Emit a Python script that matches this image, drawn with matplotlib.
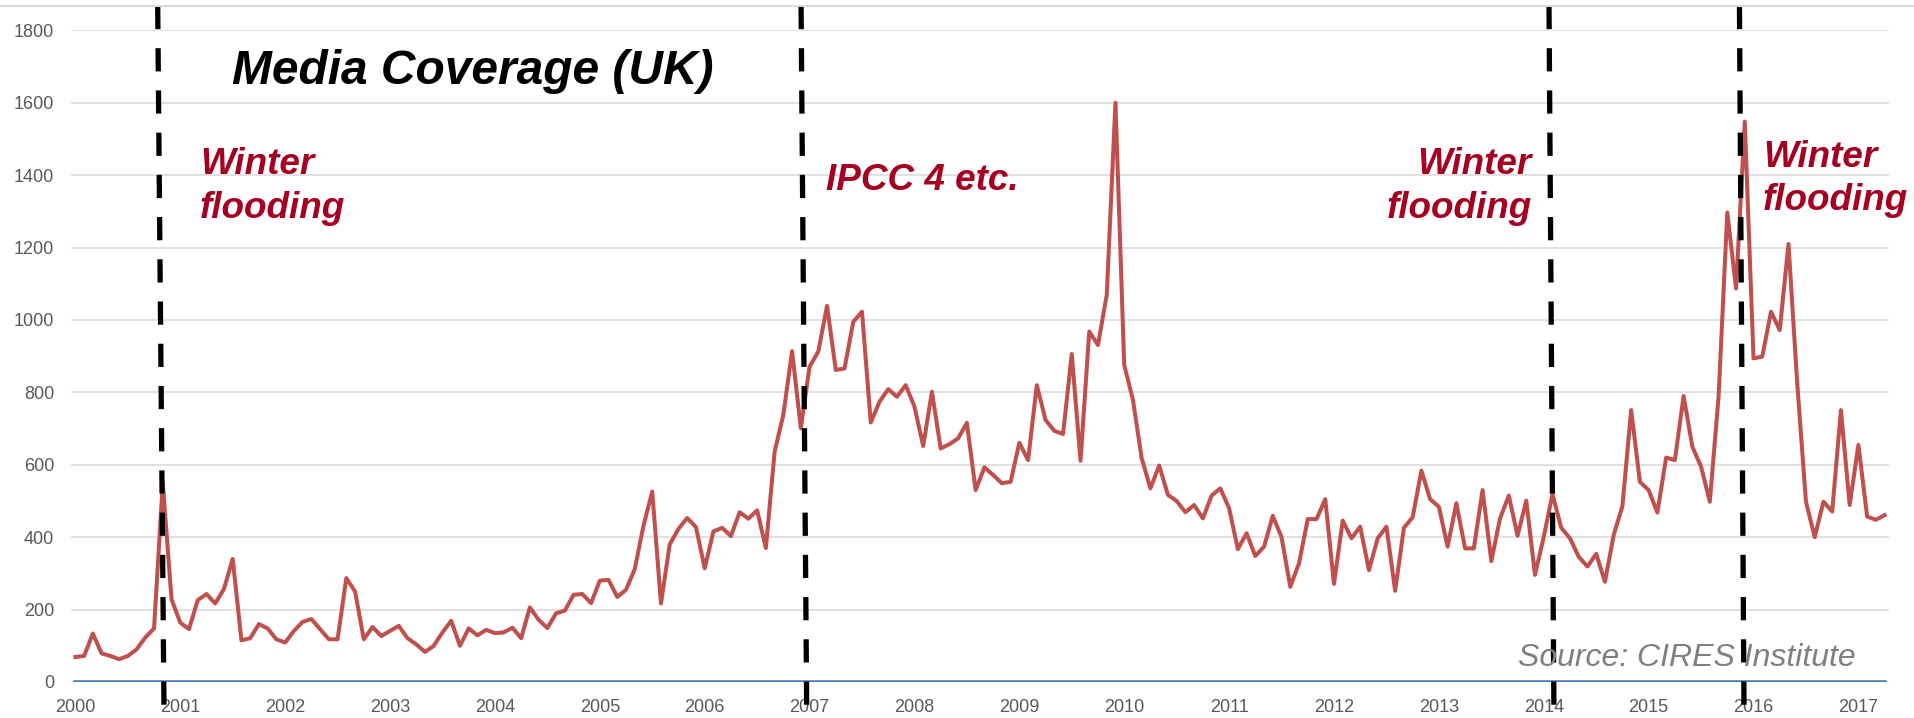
import numpy as np
import matplotlib
matplotlib.use("Agg")
import matplotlib.pyplot as plt
from matplotlib.lines import Line2D

plt.rcParams['font.family'] = ['Liberation Sans', 'DejaVu Sans']

# ---- data (monthly media coverage, Jan 2000 - Apr 2017) ----
coverage = [
    69, 72, 134, 79, 72, 63, 72, 90, 123, 148, 550, 229,          # 2000
    164, 146, 226, 243, 217, 257, 340, 115, 121, 160, 148, 118,   # 2001
    109, 141, 166, 174, 146, 118, 118, 287, 250, 118, 152, 127,   # 2002
    141, 155, 121, 104, 83, 100, 137, 169, 100, 148, 129, 144,    # 2003
    135, 137, 150, 121, 206, 172, 149, 190, 197, 241, 243, 218,   # 2004
    280, 282, 235, 255, 312, 432, 526, 217, 380, 423, 453, 428,   # 2005
    314, 416, 426, 403, 469, 451, 474, 370, 636, 738, 914, 701,   # 2006
    871, 913, 1039, 862, 866, 995, 1023, 717, 774, 809, 788, 820, # 2007
    761, 652, 802, 645, 657, 673, 716, 530, 593, 572, 549, 553,   # 2008
    661, 613, 820, 724, 694, 685, 906, 611, 968, 931, 1069, 1600, # 2009
    876, 779, 618, 535, 598, 517, 500, 469, 489, 452, 515, 535,   # 2010
    480, 367, 411, 348, 374, 459, 400, 263, 328, 450, 450, 505,   # 2011
    271, 446, 397, 429, 309, 397, 429, 252, 426, 455, 584, 505,   # 2012
    484, 374, 494, 369, 369, 530, 334, 452, 515, 404, 501, 296,   # 2013
    401, 519, 426, 397, 346, 319, 354, 277, 406, 486, 751, 553,   # 2014
    530, 468, 620, 613, 790, 650, 595, 498, 788, 1297, 1087, 1548,# 2015
    894, 899, 1023, 972, 1210, 825, 498, 400, 498, 471, 751, 489, # 2016
    655, 457, 448, 461,                                           # 2017
]
baseline_series = [0] * len(coverage)
year_labels = [str(y) for y in range(2000, 2018)]
y_ticks = list(range(0, 1801, 200))
# event markers (month index at top / bottom of the drawn dashed line)
event_top = [9.42, 83.03, 168.6, 190.39]
event_bottom = [10.15, 83.68, 169.17, 190.92]

W, H = 1915, 718
fig = plt.figure(figsize=(W / 100, H / 100), dpi=100)
fig.patch.set_facecolor('white')
ax = fig.add_axes([71 / W, (H - 682) / H, (1889 - 71) / W, (682 - 30.4) / H])

x = np.arange(len(coverage))
ax.plot(x, coverage, color='#C0504D', lw=2.9, zorder=3, solid_joinstyle='round')
ax.plot(x, baseline_series, color='#4A7EBB', lw=2.6, zorder=3)

ax.set_xlim(-0.5, 207.5)
ax.set_ylim(0, 1800)
ax.set_yticks(y_ticks)
ax.set_yticklabels([str(v) for v in y_ticks])
ax.set_xticks(np.arange(len(year_labels)) * 12)
ax.set_xticklabels(year_labels)
ax.grid(axis='y', color='#D9D9D9', lw=1.1)
ax.grid(axis='x', visible=False)
ax.set_axisbelow(True)
for s in ax.spines.values():
    s.set_visible(False)
ax.tick_params(length=0, labelsize=13, labelcolor='#595959', pad=12)

# dashed event lines
trans = ax.get_xaxis_transform()
for xt, xb in zip(event_top, event_bottom):
    ax.plot([xt, xb], [1.0375, -0.0552], transform=trans, color='black', lw=3.8,
            dashes=(4.4, 3.6), clip_on=False, zorder=6)

# top border line
fig.add_artist(Line2D([0, 1], [1 - 5.5 / H] * 2, color='#D9D9D9', lw=1.5))

def ftext(px, py, s, **kw):
    fig.text(px / W, 1 - py / H, s, va='baseline', **kw)

red = '#A50021'
ftext(232, 84, 'Media Coverage (UK)', fontsize=34.5, fontweight='bold', fontstyle='italic',
      color='black', zorder=7)
ann = dict(fontsize=26.6, fontweight='bold', fontstyle='italic', color=red, zorder=7)
ftext(200, 174, 'Winter', **ann)
ftext(200, 217.5, 'flooding', **ann)
ftext(826, 190, 'IPCC 4 etc.', **ann)
ftext(1532, 174, 'Winter', ha='right', **ann)
ftext(1532, 217.5, 'flooding', ha='right', **ann)
ftext(1763, 167, 'Winter', **ann)
ftext(1763, 210.5, 'flooding', **ann)
ftext(1518, 666, 'Source: CIRES Institute', fontsize=23, fontstyle='italic', color='#7F7F7F', zorder=2)

fig.savefig('out.png', dpi=100, facecolor='white')
